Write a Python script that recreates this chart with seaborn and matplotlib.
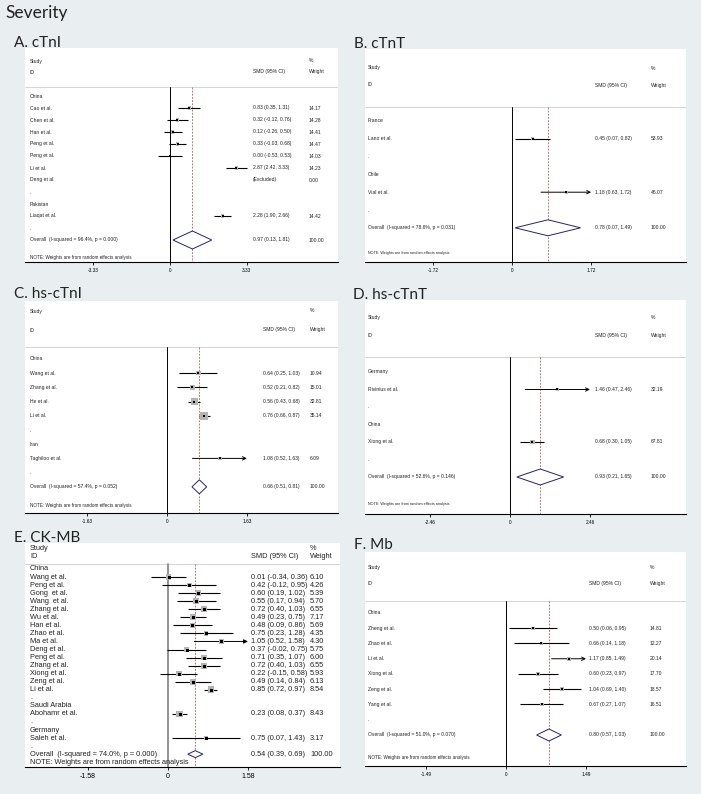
import numpy as np
import pandas as pd
import matplotlib
matplotlib.use("Agg")
import matplotlib.pyplot as plt
import matplotlib.transforms as mtrans
from matplotlib.patches import Polygon
import seaborn as sns

# ------------------------------------------------------------------ data
A_groups = ["China", "Pakistan"]
A_study = ["Cao et al.", "Chen et al.", "Han et al.", "Peng et al.", "Peng et al.",
           "Li et al.", "Deng et al.", "Liaqat et al."]
A_group = [0, 0, 0, 0, 0, 0, 0, 1]
A_smd = [0.83, 0.32, 0.12, 0.33, 0.00, 2.87, np.nan, 2.28]
A_lo = [0.35, -0.12, -0.26, -0.03, -0.53, 2.42, np.nan, 1.90]
A_hi = [1.31, 0.76, 0.50, 0.68, 0.53, 3.33, np.nan, 2.66]
A_wt = [14.17, 14.28, 14.41, 14.47, 14.03, 14.23, 0.00, 14.42]
A_overall = [0.97, 0.13, 1.81]
A_het = [96.4, 0.000]
A_tick = 3.33

B_groups = ["France", "Chile"]
B_study = ["Lano et al.", "Vial et al."]
B_group = [0, 1]
B_smd = [0.45, 1.18]
B_lo = [0.07, 0.63]
B_hi = [0.82, 1.72]
B_wt = [53.93, 46.07]
B_overall = [0.78, 0.07, 1.49]
B_het = [78.6, 0.031]
B_tick = 1.72

C_groups = ["China", "Iran"]
C_study = ["Wang et al.", "Zhang et al.", "He et al.", "Li et al.", "Taghiloo et al."]
C_group = [0, 0, 0, 0, 1]
C_smd = [0.64, 0.52, 0.56, 0.76, 1.08]
C_lo = [0.25, 0.21, 0.43, 0.66, 0.52]
C_hi = [1.03, 0.82, 0.68, 0.87, 1.63]
C_wt = [10.94, 15.01, 32.81, 35.14, 6.09]
C_overall = [0.66, 0.51, 0.81]
C_het = [57.4, 0.052]
C_tick = 1.63

D_groups = ["Germany", "China"]
D_study = ["Rivinius et al.", "Xiong et al."]
D_group = [0, 1]
D_smd = [1.46, 0.68]
D_lo = [0.47, 0.30]
D_hi = [2.46, 1.05]
D_wt = [32.19, 67.81]
D_overall = [0.93, 0.21, 1.65]
D_het = [52.6, 0.146]
D_tick = 2.46

E_groups = ["China", "Saudi Arabia", "Germany"]
E_study = ["Wang et al.", "Peng et al.", "Gong  et al.", "Wang  et al.", "Zhang et al.",
           "Wu et al.", "Han et al.", "Zhao et al.", "Ma et al.", "Deng et al.",
           "Peng et al.", "Zhang et al.", "Xiong et al.", "Zeng et al.", "Li et al.",
           "Abohamr et al.", "Saleh et al."]
E_group = [0] * 15 + [1, 2]
E_smd = [0.01, 0.42, 0.60, 0.55, 0.72, 0.49, 0.48, 0.75, 1.05, 0.37, 0.71, 0.72,
         0.22, 0.49, 0.85, 0.23, 0.75]
E_lo = [-0.34, -0.12, 0.19, 0.17, 0.40, 0.23, 0.09, 0.23, 0.52, -0.02, 0.35, 0.40,
        -0.15, 0.14, 0.72, 0.08, 0.07]
E_hi = [0.36, 0.95, 1.02, 0.94, 1.03, 0.75, 0.86, 1.28, 1.58, 0.75, 1.07, 1.03,
        0.58, 0.84, 0.97, 0.37, 1.43]
E_wt = [6.10, 4.26, 5.39, 5.70, 6.55, 7.17, 5.69, 4.35, 4.30, 5.75, 6.00, 6.55,
        5.93, 6.13, 8.54, 8.43, 3.17]
E_overall = [0.54, 0.39, 0.69]
E_het = [74.0, 0.000]
E_tick = 1.58

F_groups = ["China"]
F_study = ["Zheng et al.", "Zhao et al.", "Li et al.", "Xiong et al.", "Zeng et al.", "Yang et al."]
F_group = [0] * 6
F_smd = [0.50, 0.66, 1.17, 0.60, 1.04, 0.67]
F_lo = [0.06, 0.14, 0.85, 0.23, 0.69, 0.27]
F_hi = [0.95, 1.18, 1.49, 0.97, 1.40, 1.07]
F_wt = [14.81, 12.27, 20.14, 17.70, 18.57, 16.51]
F_overall = [0.80, 0.57, 1.03]
F_het = [51.0, 0.070]
F_tick = 1.49

TITLES = {"A": "A. cTnI", "B": "B. cTnT", "C": "C. hs-cTnI",
          "D": "D. hs-cTnT", "E": "E. CK-MB", "F": "F. Mb"}

# ------------------------------------------------------------------ layout (pixels)
W, H = 701, 794
LAYOUT = {
    "A": dict(box=(25, 48, 338, 262), zero=170, ppu=23.1, row0=96, dy=12.0,
              head=(61, 72), sep=87, note=258, cols=(30, 253, 309), dhalf=9,
              fs=3.6, nfs=3.3, tfs=3.4, k=0.8, arrow=None, lab=(14, 47)),
    "B": dict(box=(365, 49, 686, 262), zero=512, ppu=46.0, row0=121, dy=17.8,
              head=(68, 85), sep=107, note=253, cols=(368, 595, 651), dhalf=8,
              fs=3.6, nfs=2.7, tfs=3.4, k=0.45, arrow="->", lab=(354, 48)),
    "C": dict(box=(25, 301, 338, 513), zero=167, ppu=49.0, row0=359, dy=14.2,
              head=(311, 330), sep=347, note=505, cols=(30, 263, 310), dhalf=7,
              fs=3.6, nfs=3.3, tfs=3.4, k=1.35, arrow="->", lab=(14, 298)),
    "D": dict(box=(365, 300, 686, 514), zero=510, ppu=32.5, row0=372, dy=17.5,
              head=(318, 336), sep=357, note=504, cols=(368, 595, 651), dhalf=8,
              fs=3.6, nfs=2.7, tfs=3.4, k=0.6, arrow="->", lab=(353, 299)),
    "E": dict(box=(25, 543, 340, 767), zero=168, ppu=50.6, row0=569, dy=8.05,
              head=(549, 557), sep=564, note=762, cols=(30, 251, 310), dhalf=3.5,
              fs=5.3, nfs=5.3, tfs=5.0, k=2.3, arrow="-|>", lab=(14, 542)),
    "F": dict(box=(365, 552, 686, 766), zero=506, ppu=53.7, row0=613, dy=15.25,
              head=(568, 584), sep=601, note=758, cols=(368, 589, 650), dhalf=6,
              fs=3.6, nfs=3.3, tfs=3.4, k=0.9, arrow="->", lab=(354, 549)),
}

BG = "#e9eef0"
TXT_FONT = ["Liberation Sans", "DejaVu Sans"]
LAB_FONT = ["Lato", "DejaVu Sans"]

sns.set_theme(style="white")
plt.rcParams["font.family"] = TXT_FONT

fig = plt.figure(figsize=(W / 100, H / 100), dpi=100)
fig.patch.set_facecolor(BG)
fig.text(5 / W, 1 - 18 / H, "Severity", fontsize=12.5, family=LAB_FONT,
         va="baseline", ha="left", color="#222222")


def draw_panel(key, groups, study, group, smd, lo, hi, wt, overall, het, tick):
    L = LAYOUT[key]
    left, top, right, bot = L["box"]
    fig.text(L["lab"][0] / W, 1 - L["lab"][1] / H, TITLES[key], fontsize=11,
             family=LAB_FONT, va="baseline", ha="left", color="#222222")
    ax = fig.add_axes([left / W, 1 - bot / H, (right - left) / W, (bot - top) / H])
    ax.set_facecolor("white")
    tr = mtrans.blended_transform_factory(fig.transFigure, ax.transData)
    fs = L["fs"]
    big = key == "E"
    tcol = "#222222"

    rows = []
    for g, gname in enumerate(groups):
        rows.append(("group", gname, None))
        for i in range(len(study)):
            if group[i] == g:
                rows.append(("study", study[i], i))
        rows.append(("dot", ".", None))
    rows.append(("overall", "Overall  (I-squared = %.1f%%, p = %.3f)" % (het[0], het[1]), None))
    yrow = [L["row0"] + k * L["dy"] for k in range(len(rows))]

    cx_id, cx_smd, cx_w = [c / W for c in L["cols"]]
    tk = dict(transform=tr, fontsize=fs, va="center", color=tcol)
    ax.text(cx_id, L["head"][0], "Study", **tk)
    ax.text(cx_id, L["head"][1], "ID", **tk)
    ax.text(cx_w, L["head"][0], "%", **tk)
    ax.text(cx_w, L["head"][1], "Weight", **tk)
    ax.text(cx_smd, L["head"][1], "SMD (95% CI)", **tk)
    ax.axhline(L["sep"], color="#d4d4d4", lw=0.7)
    ax.text(cx_id, L["note"], "NOTE: Weights are from random effects analysis",
            transform=tr, fontsize=L["nfs"], va="center", color=tcol)

    zcol = "#8a8a8a" if big else "black"
    ax.plot([0, 0], [L["sep"], bot], color=zcol, lw=1.3 if big else 0.7)
    ax.plot([overall[0]] * 2, [L["sep"], bot], color="#b06060", lw=0.6,
            dashes=(2.2, 1.6))

    px, py, pw = [], [], []
    for (kind, label, idx), y in zip(rows, yrow):
        ax.text(cx_id, y, label, **tk)
        if kind == "study":
            if np.isnan(smd[idx]):
                ax.text(cx_smd, y, "(Excluded)", **tk)
            else:
                ax.text(cx_smd, y, "%.2f (%.2f, %.2f)" % (smd[idx], lo[idx], hi[idx]), **tk)
                px.append(smd[idx]); py.append(y); pw.append(wt[idx])
                if L["arrow"] and hi[idx] >= tick:
                    ax.annotate("", xy=(tick, y), xytext=(lo[idx], y),
                                arrowprops=dict(arrowstyle=L["arrow"], lw=0.7,
                                                color="black", shrinkA=0, shrinkB=0,
                                                mutation_scale=6))
                else:
                    ax.hlines(y, lo[idx], hi[idx], color="black", lw=0.8)
            ax.text(cx_w, y, "%.2f" % wt[idx], **tk)
        elif kind == "overall":
            ax.text(cx_smd, y, "%.2f (%.2f, %.2f)" % tuple(overall), **tk)
            ax.text(cx_w, y, "100.00", **tk)
            hh = L["dhalf"]
            dia = Polygon([(overall[1], y), (overall[0], y - hh), (overall[2], y),
                           (overall[0], y + hh)], closed=True, facecolor="white",
                          edgecolor="#23236e", lw=0.7, zorder=4)
            ax.add_patch(dia)

    df = pd.DataFrame({"smd": px, "y": py, "wt": pw})
    side = L["k"] * np.sqrt(df["wt"].to_numpy())
    sns.scatterplot(data=df, x="smd", y="y", marker="s", color="#b4b4b4",
                    s=(side * 0.72) ** 2, linewidth=0, legend=False, ax=ax, zorder=3)
    sns.scatterplot(data=df, x="smd", y="y", marker="s", color="black",
                    s=(3.0 * 0.72) ** 2 if big else (2.4 * 0.72) ** 2,
                    linewidth=0, legend=False, ax=ax, zorder=5)

    ax.set_xlim((left - L["zero"]) / L["ppu"], (right - L["zero"]) / L["ppu"])
    ax.set_ylim(bot, top)
    ax.set_xlabel(""); ax.set_ylabel("")
    for s in ["top", "right", "left"]:
        ax.spines[s].set_visible(False)
    ax.spines["bottom"].set_linewidth(0.8)
    ax.spines["bottom"].set_color("black")
    ax.set_xticks([-tick, 0, tick])
    ax.set_xticklabels(["%.2f" % -tick, "0", "%.2f" % tick])
    ax.tick_params(axis="x", bottom=True, length=2.5, width=0.6, labelsize=L["tfs"],
                   pad=1.5, colors="black")
    ax.set_yticks([])
    ax.grid(False)


draw_panel("A", A_groups, A_study, A_group, A_smd, A_lo, A_hi, A_wt, A_overall, A_het, A_tick)
draw_panel("B", B_groups, B_study, B_group, B_smd, B_lo, B_hi, B_wt, B_overall, B_het, B_tick)
draw_panel("C", C_groups, C_study, C_group, C_smd, C_lo, C_hi, C_wt, C_overall, C_het, C_tick)
draw_panel("D", D_groups, D_study, D_group, D_smd, D_lo, D_hi, D_wt, D_overall, D_het, D_tick)
draw_panel("E", E_groups, E_study, E_group, E_smd, E_lo, E_hi, E_wt, E_overall, E_het, E_tick)
draw_panel("F", F_groups, F_study, F_group, F_smd, F_lo, F_hi, F_wt, F_overall, F_het, F_tick)

fig.savefig("out.png", dpi=100, facecolor=BG)
